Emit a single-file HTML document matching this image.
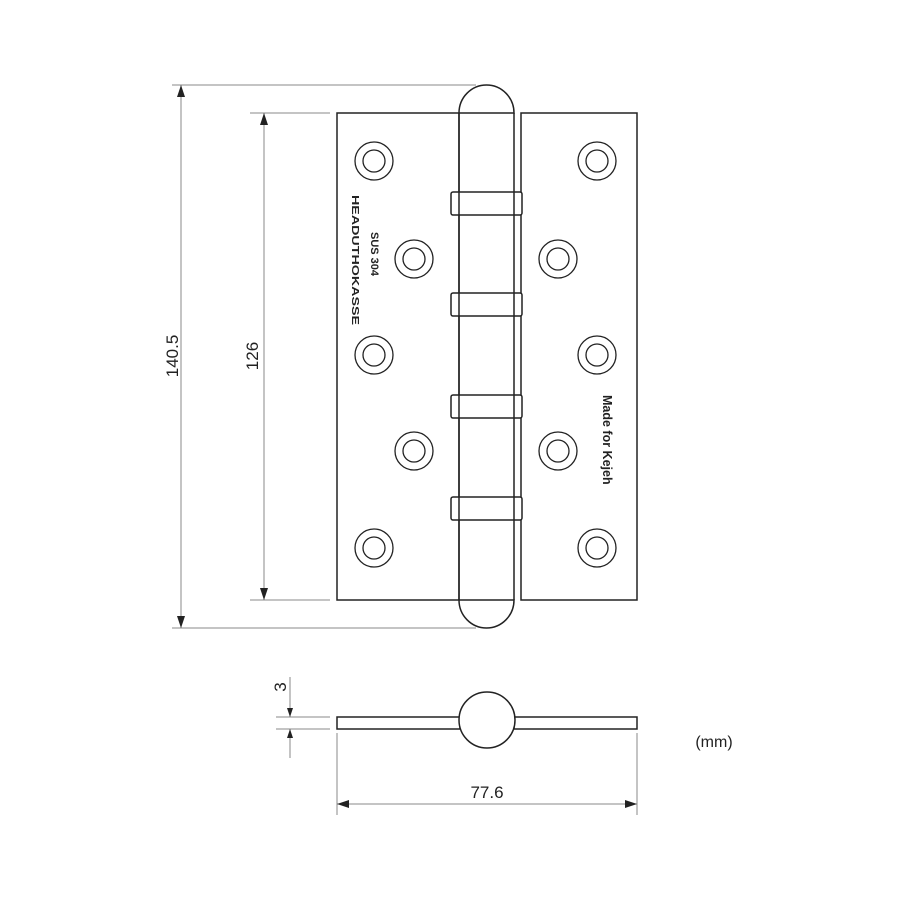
<!DOCTYPE html>
<html><head><meta charset="utf-8"><style>
html,body{margin:0;padding:0;background:#fff;}
svg{display:block;font-family:"Liberation Sans",sans-serif;}
</style></head><body>
<svg width="900" height="900" viewBox="0 0 900 900" xmlns="http://www.w3.org/2000/svg">
<g fill="none" stroke="#222" stroke-width="1.5">
<rect x="337" y="113" width="122" height="487"/>
<rect x="521" y="113" width="116" height="487"/>
<path d="M459,113 L459,600 M514,113 L514,600"/>
<path d="M459,113 A27.5,28 0 0 1 514,113 Z" fill="#fff"/>
<path d="M459,600 A27.5,28 0 0 0 514,600 Z" fill="#fff"/>
<g fill="#fff">
<rect x="451" y="192" width="71" height="23" rx="2"/>
<rect x="451" y="293" width="71" height="23" rx="2"/>
<rect x="451" y="395" width="71" height="23" rx="2"/>
<rect x="451" y="497" width="71" height="23" rx="2"/>
</g>
<path d="M459,192 L459,215 M514,192 L514,215 M459,293 L459,316 M514,293 L514,316 M459,395 L459,418 M514,395 L514,418 M459,497 L459,520 M514,497 L514,520"/>
<g stroke-width="1.3">
<circle cx="374" cy="161" r="19"/><circle cx="374" cy="161" r="11"/>
<circle cx="414" cy="259" r="19"/><circle cx="414" cy="259" r="11"/>
<circle cx="374" cy="355" r="19"/><circle cx="374" cy="355" r="11"/>
<circle cx="414" cy="451" r="19"/><circle cx="414" cy="451" r="11"/>
<circle cx="374" cy="548" r="19"/><circle cx="374" cy="548" r="11"/>
<circle cx="597" cy="161" r="19"/><circle cx="597" cy="161" r="11"/>
<circle cx="558" cy="259" r="19"/><circle cx="558" cy="259" r="11"/>
<circle cx="597" cy="355" r="19"/><circle cx="597" cy="355" r="11"/>
<circle cx="558" cy="451" r="19"/><circle cx="558" cy="451" r="11"/>
<circle cx="597" cy="548" r="19"/><circle cx="597" cy="548" r="11"/>
</g>
</g>
<g stroke="#888" stroke-width="1" fill="none">
<path d="M172,85 L476,85 M172,628 L476,628"/>
<path d="M250,113 L330,113 M250,600 L330,600"/>
<path d="M181,85 L181,628 M264,113 L264,600"/>
<path d="M276,717 L330,717 M276,729 L330,729 M290,677 L290,717 M290,729 L290,758"/>
<path d="M337,733 L337,815 M637,733 L637,815 M337,804 L637,804"/>
</g>
<g fill="#222">
<path d="M181,85 l-4,12 l8,0 Z M181,628 l-4,-12 l8,0 Z"/>
<path d="M264,113 l-4,12 l8,0 Z M264,600 l-4,-12 l8,0 Z"/>
<path d="M290,717 l-3,-9 l6,0 Z M290,729 l-3,9 l6,0 Z"/>
<path d="M337,804 l12,-4 l0,8 Z M637,804 l-12,-4 l0,8 Z"/>
</g>
<g fill="none" stroke="#222" stroke-width="1.5">
<rect x="337" y="717" width="123" height="12"/>
<rect x="514" y="717" width="123" height="12"/>
<circle cx="487" cy="720" r="28" fill="#fff"/>
</g>
<g fill="#222" font-size="17">
<text transform="translate(178,356) rotate(-90)" text-anchor="middle">140.5</text>
<text transform="translate(258,356) rotate(-90)" text-anchor="middle">126</text>
<text transform="translate(286,687) rotate(-90)" text-anchor="middle">3</text>
<text x="487" y="798" text-anchor="middle">77.6</text>
<text x="714" y="747" text-anchor="middle" font-size="16">(mm)</text>
</g>
<g fill="#222" font-weight="bold">
<text transform="translate(352,195) rotate(90)" font-size="10" textLength="130" lengthAdjust="spacingAndGlyphs">HEADUTHOKASSE</text>
<text transform="translate(371,232) rotate(90)" font-size="11">SUS 304</text>
<text transform="translate(603,395) rotate(90)" font-size="12.5">Made for Kejeh</text>
</g>
</svg>
</body></html>
